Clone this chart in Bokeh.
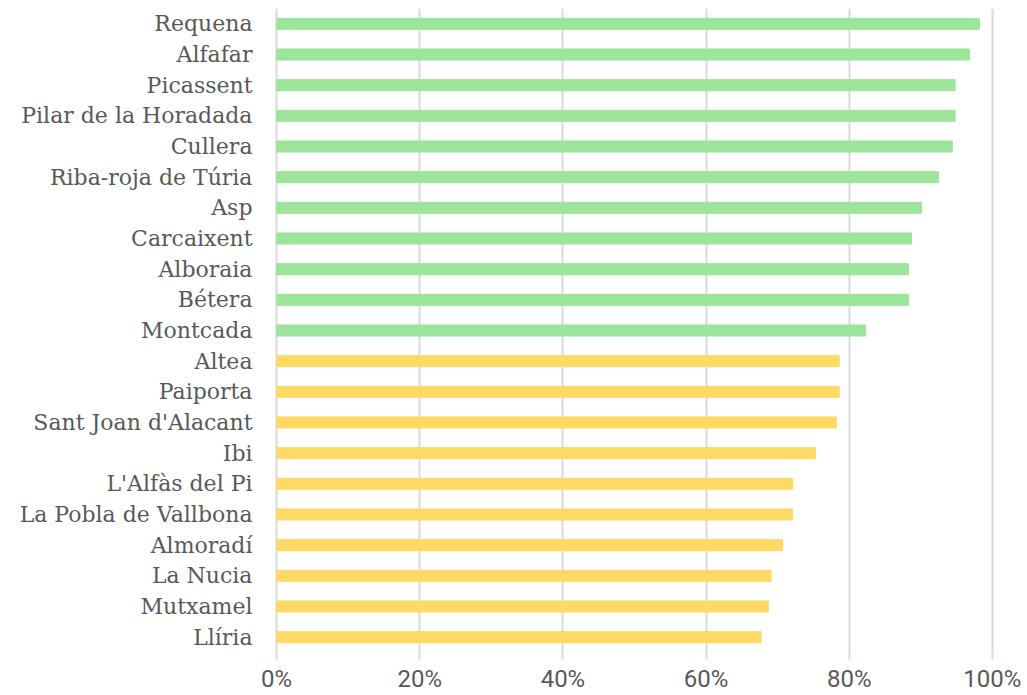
from bokeh.plotting import figure
from bokeh.models import Range1d, FactorRange, FixedTicker, CustomJSTickFormatter, ColumnDataSource
from bokeh.embed import file_html
from bokeh.resources import INLINE

towns = ["Requena", "Alfafar", "Picassent", "Pilar de la Horadada", "Cullera",
         "Riba-roja de Túria", "Asp", "Carcaixent", "Alboraia", "Bétera", "Montcada",
         "Altea", "Paiporta", "Sant Joan d'Alacant", "Ibi", "L'Alfàs del Pi",
         "La Pobla de Vallbona", "Almoradí", "La Nucia", "Mutxamel", "Llíria"]
values = [0.982, 0.968, 0.948, 0.948, 0.944, 0.925, 0.901, 0.887, 0.883, 0.883, 0.823,
          0.786, 0.786, 0.782, 0.753, 0.721, 0.721, 0.707, 0.691, 0.687, 0.677]
groups = ["high"] * 11 + ["low"] * 10
group_colors = {"high": "#9DE59A", "low": "#FFD966"}
x_ticks = [0, 0.2, 0.4, 0.6, 0.8, 1.0]

colors = [group_colors[g] for g in groups]
src = ColumnDataSource(dict(town=towns, value=values, color=colors))

p = figure(width=1027, height=695,
           y_range=FactorRange(*list(reversed(towns)), range_padding=0),
           x_range=Range1d(-0.003, 1.003),
           output_backend="svg", toolbar_location=None,
           min_border_left=274, min_border_right=33, min_border_top=8, min_border_bottom=41)

p.hbar(y="town", right="value", left=0, height=0.36, color="color", source=src)

p.outline_line_color = None
p.ygrid.grid_line_color = None
p.xgrid.grid_line_color = "#D9D9D9"
p.xgrid.grid_line_width = 2
p.xaxis.ticker = FixedTicker(ticks=x_ticks)
p.xaxis.formatter = CustomJSTickFormatter(code="return Math.round(tick*100) + '%';")
p.xaxis.axis_line_color = None
p.xaxis.major_tick_line_color = "#D9D9D9"
p.xaxis.major_tick_line_width = 2
p.xaxis.major_tick_in = 0
p.xaxis.major_tick_out = 7
p.xaxis.minor_tick_line_color = None
p.xaxis.major_label_standoff = 5
p.xaxis.major_label_text_font = "Liberation Sans Narrow, Roboto, sans-serif"
p.xaxis.major_label_text_font_size = "24px"
p.xaxis.major_label_text_color = "#595959"

p.yaxis.axis_line_color = None
p.yaxis.major_tick_line_color = None
p.yaxis.minor_tick_line_color = None
p.yaxis.major_tick_out = 0
p.yaxis.major_label_standoff = 22
p.yaxis.major_label_text_font = "DejaVu Serif"
p.yaxis.major_label_text_font_size = "22px"
p.yaxis.major_label_text_color = "#595959"

open("out.html", "w").write(file_html(p, INLINE))
